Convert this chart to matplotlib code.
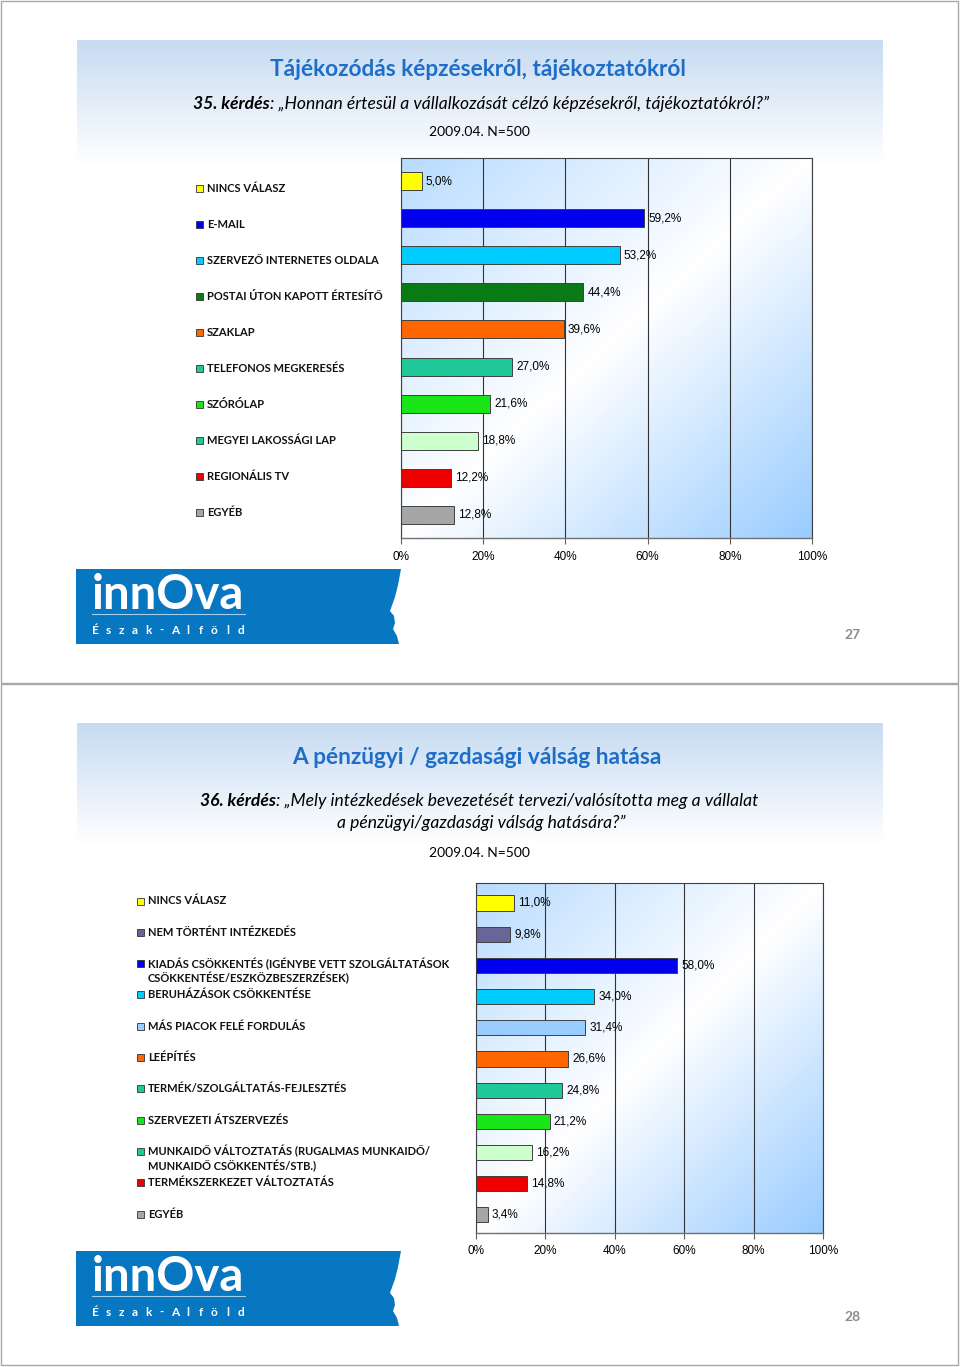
import numpy as np
import matplotlib
matplotlib.use("Agg")
import matplotlib.pyplot as plt
from matplotlib.patches import Rectangle, Polygon

# 35. kérdés adatai
q35_labels = ["NINCS VÁLASZ", "E-MAIL", "SZERVEZŐ INTERNETES OLDALA", "POSTAI ÚTON KAPOTT ÉRTESÍTŐ",
              "SZAKLAP", "TELEFONOS MEGKERESÉS", "SZÓRÓLAP", "MEGYEI LAKOSSÁGI LAP",
              "REGIONÁLIS TV", "EGYÉB"]
q35_values = [5.0, 59.2, 53.2, 44.4, 39.6, 27.0, 21.6, 18.8, 12.2, 12.8]
q35_colors = ["#ffff00", "#0000ee", "#00ccff", "#0a7a16", "#ff6600",
              "#1fc99a", "#19e619", "#ccffcc", "#ee0000", "#a6a6a6"]
q35_legend_colors = ["#ffff00", "#0000ee", "#00ccff", "#0a7a16", "#ff6600",
                     "#1fc99a", "#19e619", "#1fc99a", "#ee0000", "#a6a6a6"]

# 36. kérdés adatai
q36_labels = ["NINCS VÁLASZ", "NEM TÖRTÉNT INTÉZKEDÉS",
              "KIADÁS CSÖKKENTÉS (IGÉNYBE VETT SZOLGÁLTATÁSOK\nCSÖKKENTÉSE/ESZKÖZBESZERZÉSEK)",
              "BERUHÁZÁSOK CSÖKKENTÉSE", "MÁS PIACOK FELÉ FORDULÁS", "LEÉPÍTÉS",
              "TERMÉK/SZOLGÁLTATÁS-FEJLESZTÉS", "SZERVEZETI ÁTSZERVEZÉS",
              "MUNKAIDŐ VÁLTOZTATÁS (RUGALMAS MUNKAIDŐ/\nMUNKAIDŐ CSÖKKENTÉS/STB.)",
              "TERMÉKSZERKEZET VÁLTOZTATÁS", "EGYÉB"]
q36_values = [11.0, 9.8, 58.0, 34.0, 31.4, 26.6, 24.8, 21.2, 16.2, 14.8, 3.4]
q36_colors = ["#ffff00", "#666699", "#0000ee", "#00ccff", "#99ccff", "#ff6600",
              "#1fc99a", "#19e619", "#ccffcc", "#ee0000", "#a6a6a6"]
q36_legend_colors = ["#ffff00", "#666699", "#0000ee", "#00ccff", "#99ccff", "#ff6600",
                     "#1fc99a", "#19e619", "#1fc99a", "#ee0000", "#a6a6a6"]

x_ticks = [0, 20, 40, 60, 80, 100]
x_tick_labels = ["0%", "20%", "40%", "60%", "80%", "100%"]

W, H = 960, 1367
CAL = "Lato"
ARIAL = "Liberation Sans"
TITLE_BLUE = "#1e6ec8"

fig = plt.figure(figsize=(W / 100, H / 100), dpi=100)
fig.patch.set_facecolor("white")
bg = fig.add_axes([0, 0, 1, 1])
bg.set_autoscale_on(False)
bg.set_xlim(0, W)
bg.set_ylim(H, 0)
bg.axis("off")


def box(l, t, r, b):
    return [l / W, 1 - b / H, (r - l) / W, (b - t) / H]


def fmt(v):
    return f"{v:.1f}".replace(".", ",") + "%"


def header_band(top, bottom):
    n = 64
    t = np.linspace(0, 1, n)[:, None, None]
    top_c = np.array([0.78, 0.86, 0.95])
    grad = top_c * (1 - t) + np.ones(3) * t
    grad = np.repeat(grad, 2, axis=1)
    bg.imshow(grad, extent=(77, 883, bottom, top), aspect="auto", zorder=0,
              interpolation="bilinear")


def mixed_line(y, parts, cx, size):
    r = fig.canvas.get_renderer()
    txts = []
    for s, w in parts:
        txts.append(bg.text(0, y, s, fontsize=size, style="italic", weight=w,
                            family=CAL, va="center", ha="left", color="black"))
    widths = [t.get_window_extent(r).width for t in txts]
    x = cx - sum(widths) / 2
    for t, w in zip(txts, widths):
        t.set_x(x)
        x += w


def logo(top):
    edge = [(401, 0), (398, 16), (395, 28), (390, 42), (394, 47), (395, 54),
            (393, 60), (397, 67), (399, 75)]
    pts = [(76, top)] + [(x, top + dy) for x, dy in edge] + [(76, top + 75)]
    bg.add_patch(Polygon(pts, closed=True, fc="#0877c1", ec="none", zorder=1))
    bg.text(92, top + 40, "innOva", color="white", fontsize=34, weight="bold",
            family=CAL, va="baseline", ha="left", zorder=2)
    bg.plot([92, 245], [top + 45, top + 45], color="#9fd0f0", lw=0.8, zorder=2)
    sub = "Észak-Alföld"
    for ch, x in zip(sub, np.linspace(95, 241, len(sub))):
        bg.text(x, top + 61, ch, color="white", fontsize=8.5, weight="bold",
                family=CAL, va="center", ha="center", zorder=2)


def chart(pbox, values, colors, pad_top, pad_bottom):
    ax = fig.add_axes(box(*pbox))
    n = len(values)
    pos = np.arange(n)
    y_lo, y_hi = n - 1 + pad_bottom, -pad_top
    # háttér színátmenet
    gx, gy = np.meshgrid(np.linspace(0, 1, 200), np.linspace(0, 1, 200))
    d = (gx + gy) / 2
    inten = np.abs(d - 0.5) * 2
    inten = np.where(d < 0.5, inten * 0.7, inten)
    blue = np.array([0.6, 0.8, 1.0])
    img = np.ones((200, 200, 3)) * (1 - inten[..., None]) + blue * inten[..., None]
    ax.imshow(img, extent=(0, 100, y_lo, y_hi), aspect="auto", zorder=0,
              interpolation="bilinear")
    ax.barh(pos, values, height=0.485, color=colors, edgecolor="#404040",
            linewidth=0.7, zorder=2)
    for p, v in zip(pos, values):
        ax.annotate(fmt(v), (v, p), xytext=(3, 0), textcoords="offset points",
                    va="center", ha="left", fontsize=8.5, family=ARIAL, zorder=3)
    ax.set_xlim(0, 100)
    ax.set_ylim(y_lo, y_hi)
    ax.set_yticks([])
    ax.set_xticks(x_ticks)
    ax.set_xticklabels(x_tick_labels, family=ARIAL, fontsize=8.5)
    ax.tick_params(axis="x", length=4, width=0.8, color="#606060", pad=5)
    ax.grid(axis="x", color="#333333", lw=0.8, zorder=1)
    ax.set_axisbelow(True)
    for s in ["top", "right", "left"]:
        ax.spines[s].set_color("#404040")
        ax.spines[s].set_linewidth(0.8)
    ax.spines["bottom"].set_color("#707070")
    ax.spines["bottom"].set_linewidth(1.0)
    return ax


def legend(labels, colors, x, y0, dy):
    for i, (lab, c) in enumerate(zip(labels, colors)):
        y = y0 + i * dy
        bg.add_patch(Rectangle((x, y - 3.5), 7, 7, fc=c, ec="#333333", lw=0.6, zorder=2))
        for j, line in enumerate(lab.split("\n")):
            bg.text(x + 11, y + j * 14.5, line, fontsize=8, family=CAL, weight="bold",
                    va="center", ha="left", color="#111111", zorder=2)


# lapkeretek
for top, bottom in [(1, 683), (684, 1365)]:
    bg.add_patch(Rectangle((1, top), 957, bottom - top, fc="none", ec="#a8a8a8",
                           lw=1.0, zorder=5))

# --- 27. dia
header_band(40, 165)
bg.text(478, 70, "Tájékozódás képzésekről, tájékoztatókról", color=TITLE_BLUE,
        fontsize=16.3, weight="bold", family=CAL, ha="center", va="center")
mixed_line(104, [("35. kérdés", "bold"),
                 (": „Honnan értesül a vállalkozását célzó képzésekről, tájékoztatókról?”", "normal")],
           481, 12.6)
bg.text(479, 132, "2009.04. N=500", fontsize=10, family=CAL, ha="center", va="center")
chart((401, 158, 812, 538), q35_values, q35_colors, 0.62, 0.62)
legend(q35_labels, q35_legend_colors, 196, 188, 36)
logo(569)
bg.text(853, 635, "27", fontsize=10, color="#8c8c8c", family=CAL, weight="bold",
        ha="center", va="center")

# --- 28. dia
header_band(723, 845)
bg.text(477, 758, "A pénzügyi / gazdasági válság hatása", color=TITLE_BLUE,
        fontsize=16.3, weight="bold", family=CAL, ha="center", va="center")
mixed_line(801, [("36. kérdés", "bold"),
                 (": „Mely intézkedések bevezetését tervezi/valósította meg a vállalat", "normal")],
           479, 12.6)
mixed_line(823, [("a pénzügyi/gazdasági válság hatására?”", "normal")], 481, 12.6)
bg.text(479, 853, "2009.04. N=500", fontsize=10, family=CAL, ha="center", va="center")
chart((476, 883, 823, 1233), q36_values, q36_colors, 0.64, 0.58)
legend(q36_labels, q36_legend_colors, 137, 901, 31.3)
logo(1251)
bg.text(853, 1317, "28", fontsize=10, color="#8c8c8c", family=CAL, weight="bold",
        ha="center", va="center")

bg.set_xlim(0, W)
bg.set_ylim(H, 0)
fig.savefig("out.png", dpi=100)
